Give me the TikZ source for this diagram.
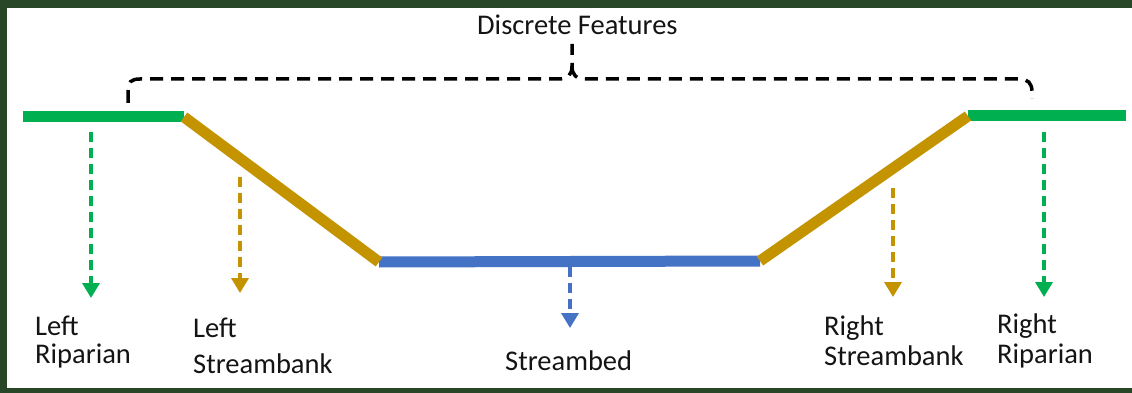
\documentclass[tikz,border=0pt]{standalone}
\usepackage{fontspec}
\setmainfont{Carlito}
\usetikzlibrary{arrows.meta}
\definecolor{rip}{HTML}{00B050}
\definecolor{bank}{HTML}{C39300}
\definecolor{bed}{HTML}{4472C4}
\definecolor{bg}{HTML}{284628}
\definecolor{txt}{HTML}{141414}
\begin{document}
\begin{tikzpicture}[x=1pt,y=-1pt,
  surf/.style={line width=11pt},
  drop/.style={line width=3.5pt, dash pattern=on 10pt off 6pt, -{Triangle[width=17pt,length=15pt]}},
  lbl/.style={anchor=base west, inner sep=0pt, text=txt, font=\fontsize{28.5}{34}\selectfont},
  brace/.style={line width=3.5pt, dash pattern=on 13pt off 8pt, black}]
\useasboundingbox (0,0) rectangle (1132,393);
\fill[white] (0,0) rectangle (1132,393);
\fill[bg] (0,0) rectangle (1132,8);
\fill[bg] (0,0) rectangle (7,393);
\fill[bg] (0,388) rectangle (1132,393);

% surfaces
\coordinate (g1) at (23,117);
\coordinate (g2) at (184,117);
\coordinate (b1) at (379,262);
\coordinate (b2) at (760,261);
\coordinate (g3) at (968,116);
\coordinate (g4) at (1126,116);
\draw[surf,rip] (g1) -- (g2);
\draw[surf,rip] (g3) -- (g4);
\draw[surf,bed] (b1) -- (b2);
\draw[surf,bank] (g2) -- (b1);
\draw[surf,bank] (b2) -- (g3);

% brace
\node[lbl] (df) at (477,35) {Discrete Features};
\coordinate (brL) at (128,103);
\coordinate (brM) at (572,44);
\coordinate (brR) at (1032,99);
\draw[brace] (brL) -- (128,91) .. controls (128,82) and (131,79) .. (140,79) -- (558,79) .. controls (568,79) and (572,75) .. (572,66) -- (brM);
\draw[brace] (572,66) .. controls (572,75) and (576,79) .. (586,79) -- (1019,79) .. controls (1028,79) and (1032,83) .. (1032,92) -- (brR);

% drop arrows
\coordinate (lrS) at (91,132);  \coordinate (lrE) at (91,298);
\coordinate (lsS) at (240,177); \coordinate (lsE) at (240,293);
\coordinate (sbS) at (570,267); \coordinate (sbE) at (570,328);
\coordinate (rsS) at (893,188); \coordinate (rsE) at (893,297);
\coordinate (rrS) at (1044,132); \coordinate (rrE) at (1044,297);
\draw[drop,rip] (lrS) -- (lrE);
\draw[drop,bank] (lsS) -- (lsE);
\draw[drop,bed] (sbS) -- (sbE);
\draw[drop,bank] (rsS) -- (rsE);
\draw[drop,rip] (rrS) -- (rrE);

% labels
\node[lbl] (lr1) at (35,335) {Left};
\node[lbl] (lr2) at (35,363) {Riparian};
\node[lbl] (ls1) at (193,337) {Left};
\node[lbl] (ls2) at (193,373) {Streambank};
\node[lbl] (sb) at (505,370) {Streambed};
\node[lbl] (rs1) at (824,335) {Right};
\node[lbl] (rs2) at (824,365) {Streambank};
\node[lbl] (rr1) at (997,333) {Right};
\node[lbl] (rr2) at (997,363) {Riparian};
\end{tikzpicture}
\end{document}
